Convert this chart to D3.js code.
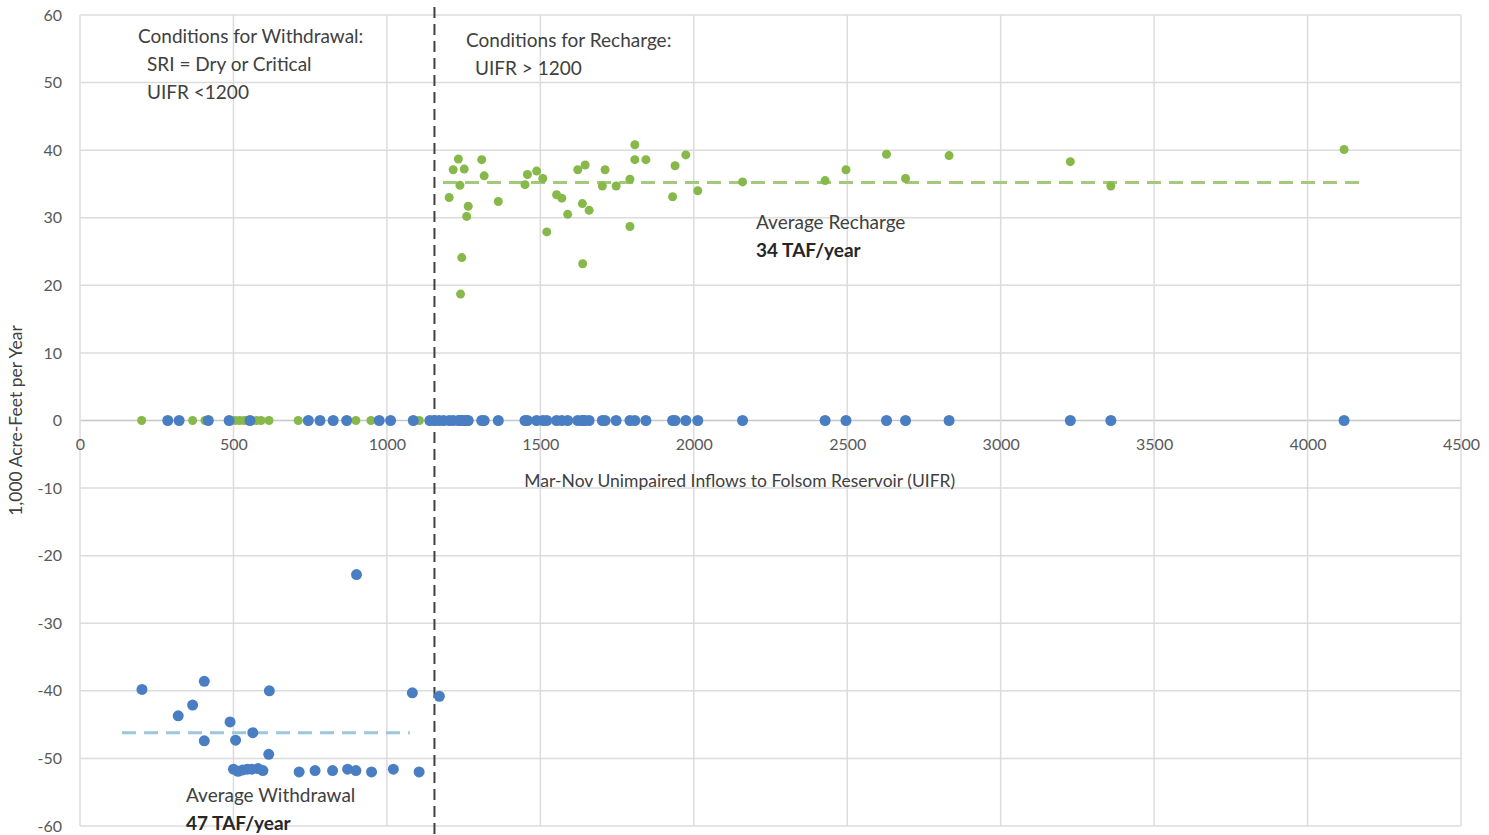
<!DOCTYPE html>
<html>
<head>
<meta charset="utf-8">
<script src="https://cdn.jsdelivr.net/npm/d3@7"></script>
<style>
    body { margin: 0; background: #fff; }
    .tick text { font-family: Lato, "Open Sans", sans-serif; font-size: 16px; fill: #595959; }
    .note { font-family: Lato, "Open Sans", sans-serif; font-size: 19px; fill: #404040; }
    .note.bold { font-weight: bold; fill: #262626; }
</style>
</head>
<body>
<div id="chart"></div>
<script>

// recharge years (green, positive)
let rechargeX = [1203, 1216, 1233, 1252, 1238, 1265, 1260, 1244, 1240, 1309, 1317, 1363, 1450, 1458, 1488, 1508,
    1553, 1570, 1589, 1521, 1622, 1646, 1637, 1659, 1638, 1711, 1702, 1747, 1792, 1792, 1808, 1808, 1844,
    1939, 1931, 1974, 2013, 2159, 2428, 2496, 2628, 2690, 2832, 3227, 3359, 4119];
let rechargeY = [33.0, 37.1, 38.7, 37.2, 34.8, 31.7, 30.2, 24.1, 18.7, 38.6, 36.2, 32.4, 34.9, 36.4, 36.9, 35.8,
    33.4, 32.9, 30.5, 27.9, 37.1, 37.8, 32.1, 31.1, 23.2, 37.1, 34.7, 34.7, 35.7, 28.7, 40.8, 38.6, 38.6,
    37.7, 33.1, 39.3, 34.0, 35.3, 35.5, 37.1, 39.4, 35.8, 39.2, 38.3, 34.7, 40.1];

// green dots sitting on zero (withdrawal years)
let rechargeZeroX = [201, 367, 407, 505, 520, 535, 545, 560, 575, 590, 616, 711, 899, 948, 1106];

// withdrawal years (blue, negative)
let withdrawalX = [202, 320, 367, 405, 405, 489, 507, 563, 617, 615, 500, 515, 530, 545, 560, 580, 596,
    714, 766, 823, 872, 899, 950, 1021, 1105, 1083, 1171, 901];
let withdrawalY = [-39.8, -43.7, -42.1, -38.6, -47.4, -44.6, -47.3, -46.2, -40.0, -49.4, -51.6, -51.9, -51.7,
    -51.6, -51.6, -51.5, -51.8, -52.0, -51.8, -51.8, -51.6, -51.8, -52.0, -51.6, -52.0, -40.3, -40.8, -22.8];

// blue dots sitting on zero
let withdrawalZeroX = [286, 323, 418, 486, 554, 744, 782, 825, 869, 975, 1012, 1086, 1140, 1155, 1170, 1185,
    1203, 1216, 1233, 1238, 1240, 1244, 1252, 1260, 1265, 1309, 1317, 1363, 1450, 1458, 1488, 1508, 1521,
    1553, 1570, 1589, 1622, 1637, 1638, 1646, 1659, 1702, 1711, 1747, 1792, 1808, 1844, 1931, 1939, 1974,
    2013, 2159, 2428, 2496, 2628, 2690, 2832, 3227, 3359, 4119];

let thresholdX = 1155;
let avgRecharge = { x0: 1183, x1: 4177, y: 35.2 };
let avgWithdrawal = { x0: 137, x1: 1075, y: -46.2 };

let xTicks = [0, 500, 1000, 1500, 2000, 2500, 3000, 3500, 4000, 4500];
let yTicks = [-60, -50, -40, -30, -20, -10, 0, 10, 20, 30, 40, 50, 60];

let green = "#86b94a", blue = "#4a7ec2";

let margin = { top: 15, right: 28, bottom: 9, left: 80 };
let width = 1489 - margin.left - margin.right,
    height = 835 - margin.top - margin.bottom;

let svg = d3.select("#chart").append("svg")
    .attr("width", 1489)
    .attr("height", 835)
    .append("g")
    .attr("transform", "translate(" + margin.left + "," + margin.top + ")");

let x = d3.scaleLinear().domain([0, 4500]).range([0, width]);
let y = d3.scaleLinear().domain([-60, 60]).range([height, 0]);

// grid lines
svg.append("g")
    .selectAll("line.hgrid")
    .data(yTicks)
    .enter().append("line")
    .attr("x1", 0).attr("x2", width)
    .attr("y1", d => y(d)).attr("y2", d => y(d))
    .attr("stroke", d => d == 0 ? "#c6c6c6" : "#dcdcdc")
    .attr("stroke-width", 1.5);

svg.append("g")
    .selectAll("line.vgrid")
    .data(xTicks)
    .enter().append("line")
    .attr("x1", d => x(d)).attr("x2", d => x(d))
    .attr("y1", 0).attr("y2", height)
    .attr("stroke", "#dcdcdc")
    .attr("stroke-width", 1.5);

// axes (labels only), plain hyphen minus and no thousands comma
let plain = d => String(d);

let yAxis = d3.axisLeft(y).tickValues(yTicks).tickFormat(plain).tickSize(0).tickPadding(18);
svg.append("g").attr("class", "y-axis").call(yAxis)
    .call(g => g.select(".domain").remove());

let xAxis = d3.axisBottom(x).tickValues(xTicks).tickFormat(plain).tickSize(0).tickPadding(18);
svg.append("g").attr("class", "x-axis")
    .attr("transform", "translate(0," + y(0) + ")")
    .call(xAxis)
    .call(g => g.select(".domain").remove());

// axis titles
svg.append("text")
    .attr("class", "note")
    .attr("x", x(2150))
    .attr("y", y(0) + 66)
    .attr("text-anchor", "middle")
    .style("font-size", "17.5px")
    .text("Mar-Nov Unimpaired Inflows to Folsom Reservoir (UIFR)");

svg.append("text")
    .attr("class", "note")
    .attr("transform", "translate(" + (-58) + "," + y(0) + ") rotate(-90)")
    .attr("text-anchor", "middle")
    .style("font-size", "17.5px")
    .text("1,000 Acre-Feet per Year");

// threshold line
svg.append("line")
    .attr("x1", x(thresholdX)).attr("x2", x(thresholdX))
    .attr("y1", -8).attr("y2", height + 10)
    .attr("stroke", "#404040")
    .attr("stroke-width", 2)
    .attr("stroke-dasharray", "11,6");

// average lines
svg.append("line")
    .attr("x1", x(avgRecharge.x0)).attr("x2", x(avgRecharge.x1))
    .attr("y1", y(avgRecharge.y)).attr("y2", y(avgRecharge.y))
    .attr("stroke", "#a3c97a")
    .attr("stroke-width", 3)
    .attr("stroke-dasharray", "14,8");

svg.append("line")
    .attr("x1", x(avgWithdrawal.x0)).attr("x2", x(avgWithdrawal.x1))
    .attr("y1", y(avgWithdrawal.y)).attr("y2", y(avgWithdrawal.y))
    .attr("stroke", "#9cc6dc")
    .attr("stroke-width", 3)
    .attr("stroke-dasharray", "14,8");

// green series
let greenData = rechargeX.map((d, i) => ({ x: d, y: rechargeY[i] }))
    .concat(rechargeZeroX.map(d => ({ x: d, y: 0 })));

svg.append("g")
    .selectAll("circle")
    .data(greenData)
    .enter().append("circle")
    .attr("cx", d => x(d.x))
    .attr("cy", d => y(d.y))
    .attr("r", 4.5)
    .attr("fill", green);

// blue series
let blueData = withdrawalX.map((d, i) => ({ x: d, y: withdrawalY[i] }))
    .concat(withdrawalZeroX.map(d => ({ x: d, y: 0 })));

svg.append("g")
    .selectAll("circle")
    .data(blueData)
    .enter().append("circle")
    .attr("cx", d => x(d.x))
    .attr("cy", d => y(d.y))
    .attr("r", 5.5)
    .attr("fill", blue);

// annotations
let notes = [
    { t: "Conditions for Withdrawal:", px: 58, py: 28, b: false },
    { t: "SRI = Dry or Critical", px: 67, py: 56, b: false },
    { t: "UIFR <1200", px: 67, py: 84, b: false },
    { t: "Conditions for Recharge:", px: 386, py: 32, b: false },
    { t: "UIFR > 1200", px: 395, py: 60, b: false },
    { t: "Average Recharge", px: 676, py: 214, b: false },
    { t: "34 TAF/year", px: 676, py: 242, b: true },
    { t: "Average Withdrawal", px: 106, py: 787, b: false },
    { t: "47 TAF/year", px: 106, py: 815, b: true }
];

svg.append("g")
    .selectAll("text")
    .data(notes)
    .enter().append("text")
    .attr("class", d => d.b ? "note bold" : "note")
    .attr("x", d => d.px)
    .attr("y", d => d.py)
    .text(d => d.t);

</script>
</body>
</html>
